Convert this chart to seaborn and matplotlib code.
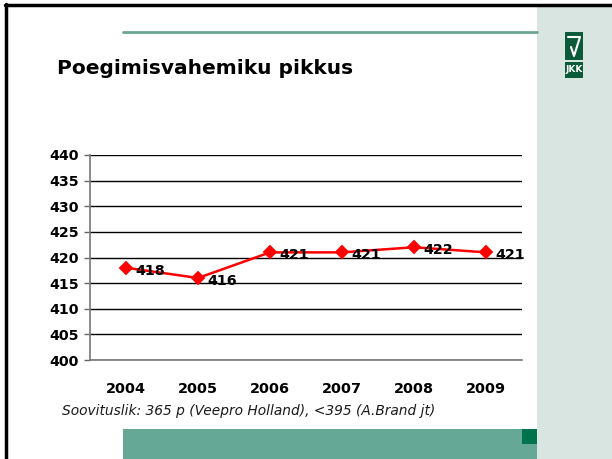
import matplotlib
matplotlib.use("Agg")
import matplotlib.pyplot as plt
import numpy as np
import pandas as pd
import seaborn as sns
from matplotlib.patches import Rectangle
from matplotlib.lines import Line2D

# chart data
years = ["2004", "2005", "2006", "2007", "2008", "2009"]
interval_days = [418, 416, 421, 421, 422, 421]
y_ticks = [400, 405, 410, 415, 420, 425, 430, 435, 440]

title = "Poegimisvahemiku pikkus"
footnote = "Soovituslik: 365 p (Veepro Holland), <395 (A.Brand jt)"

W, H = 612, 459

sns.set_theme(style="white")
plt.rcParams["font.family"] = ["DejaVu Sans"]
plt.rcParams["text.color"] = "black"
plt.rcParams["xtick.color"] = "black"
plt.rcParams["ytick.color"] = "black"

fig = plt.figure(figsize=(W / 100, H / 100), dpi=100)
fig.patch.set_facecolor("white")


def fx(x):
    return x / W


def fy(y):
    return 1 - y / H


def rect(x0, y0, x1, y1, color, z=0):
    fig.patches.append(Rectangle((fx(x0), fy(y1)), fx(x1 - x0), (y1 - y0) / H,
                                 transform=fig.transFigure, facecolor=color,
                                 edgecolor="none", zorder=z))


# slide decorations
rect(537, 6, W, H, "#d9e5e1")
rect(123, 429, 537, H, "#66a896")
rect(522, 429, 537, 444, "#00734d", 1)
fig.lines.append(Line2D([fx(123), fx(537)], [fy(32), fy(32)], transform=fig.transFigure,
                        color="#6aa592", lw=2))
fig.lines.append(Line2D([fx(5), fx(W)], [fy(5), fy(5)], transform=fig.transFigure,
                        color="black", lw=2.5))
fig.lines.append(Line2D([fx(6), fx(6)], [fy(4), fy(H)], transform=fig.transFigure,
                        color="black", lw=2.5))

# logo
rect(565, 32, 583, 60, "#0b5a3a", 2)
rect(565, 62, 583, 78, "#0b5a3a", 2)
fig.lines.append(Line2D([fx(568), fx(580), fx(574), fx(571)], [fy(37), fy(37), fy(56), fy(47)],
                        transform=fig.transFigure, color="white", lw=1.5, zorder=3))
fig.text(fx(574), fy(70), "JKK", color="white", fontsize=6.5, fontweight="bold",
         ha="center", va="center", zorder=3)

fig.text(fx(57), fy(69), title, fontsize=14.5, fontweight="bold", ha="left", va="center")
fig.text(fx(62), fy(411), footnote, fontsize=9.9, fontstyle="italic", ha="left", va="center",
         color="#1a1a1a")

ax = fig.add_axes([fx(90), fy(360), fx(522 - 90), (360 - 155) / H])
ax.set_facecolor("none")

df = pd.DataFrame({"year": years, "days": interval_days})
sns.pointplot(data=df, x="year", y="days", ax=ax, color="red", markers="D",
              linestyles="-", markersize=6, linewidth=1.8, errorbar=None)

for i, v in enumerate(interval_days):
    ax.annotate(str(v), (i, v), xytext=(9, -3), textcoords="offset pixels",
                ha="left", va="center", fontsize=10.3, fontweight="bold", color="black",
                zorder=5, annotation_clip=False)

ax.set_ylim(400, 440)
ax.set_xlim(-0.5, len(years) - 0.5)
ax.set_yticks(y_ticks)
ax.set_yticklabels([str(t) for t in y_ticks], fontsize=10.2, fontweight="bold")
ax.set_xticks(range(len(years)))
ax.set_xticklabels(years, fontsize=10.4, fontweight="bold")
ax.set_xticks(np.arange(-0.5, len(years), 1), minor=True)
ax.tick_params(axis="x", which="major", length=0, pad=16)
ax.tick_params(axis="x", which="minor", length=4.3, width=1, color="#666666", direction="out")
ax.tick_params(axis="y", length=4.3, width=1, color="#666666", direction="out", pad=3.5,
               left=True)
ax.set_xlabel("")
ax.set_ylabel("")
ax.yaxis.grid(True, color="black", lw=1)
ax.set_axisbelow(True)
for s in ["top", "right"]:
    ax.spines[s].set_visible(False)
for s in ["left", "bottom"]:
    ax.spines[s].set_color("#777777")
    ax.spines[s].set_linewidth(1.2)

fig.savefig("out.png", dpi=100)
